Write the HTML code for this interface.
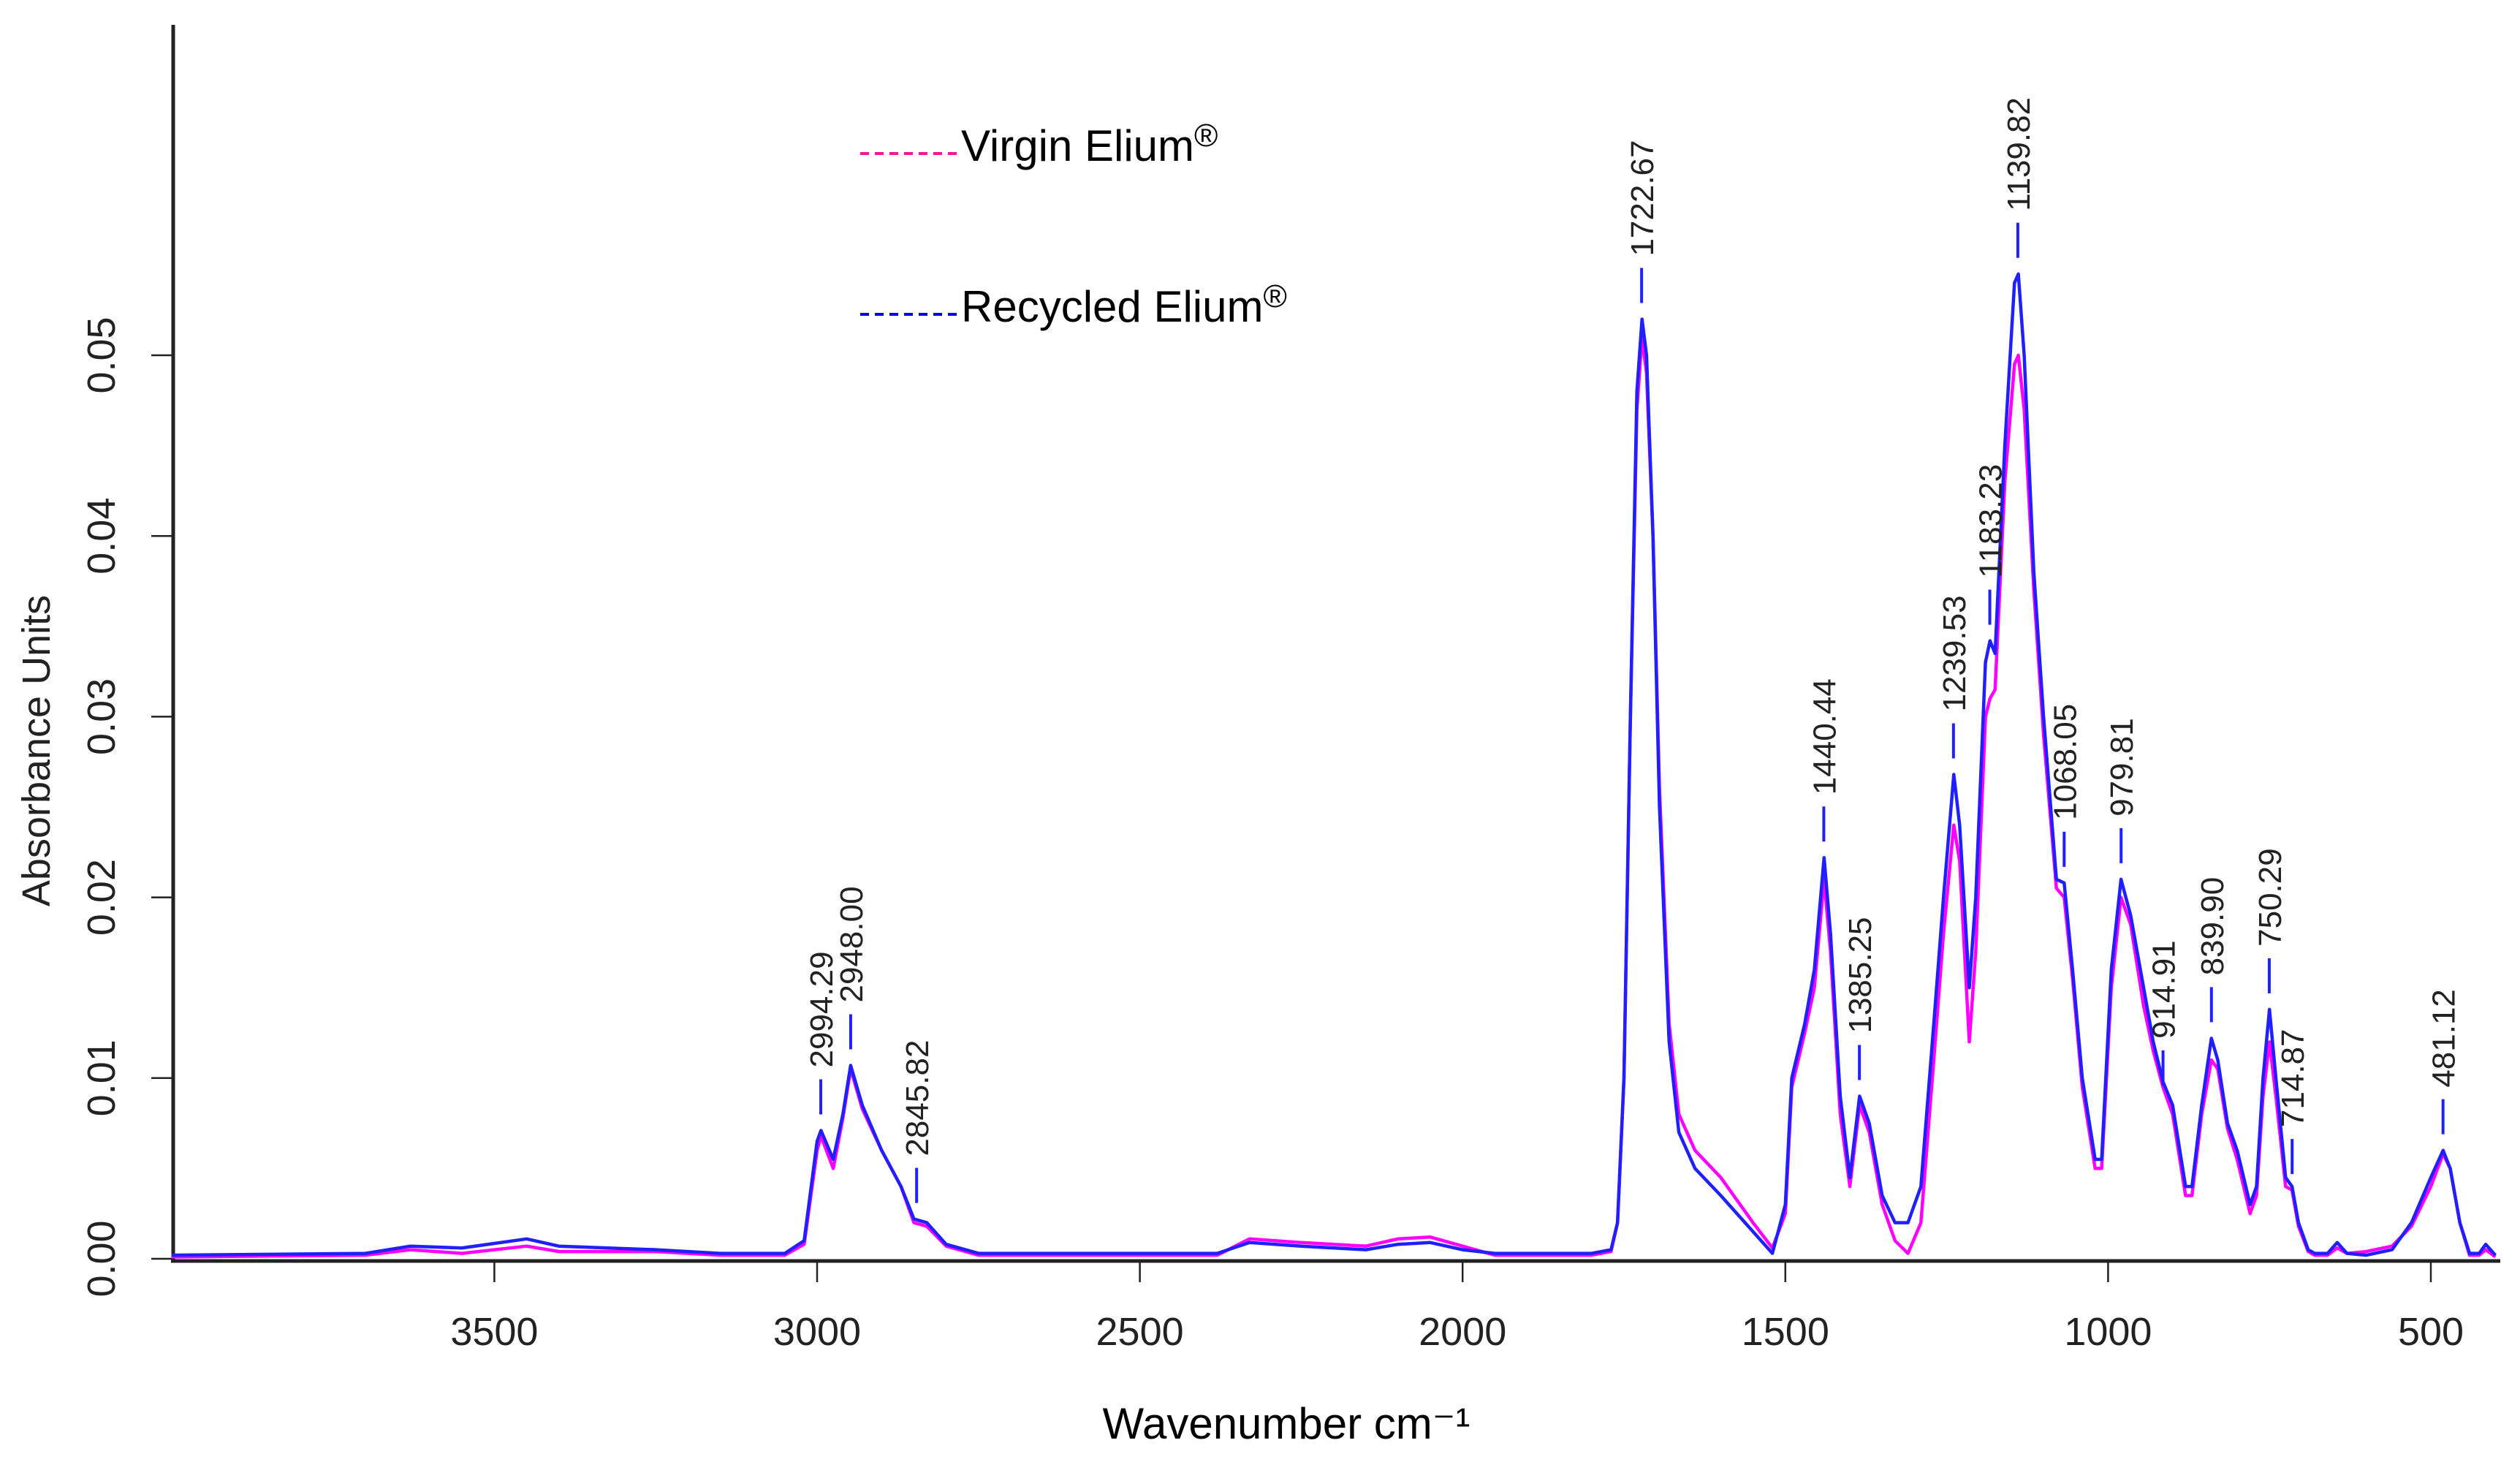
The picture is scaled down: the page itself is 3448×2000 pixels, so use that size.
<!DOCTYPE html>
<html><head><meta charset="utf-8"><style>
html,body{margin:0;padding:0;background:#fff;}
svg{display:block;}
text{font-family:"Liberation Sans",Arial,sans-serif;}
</style></head><body>
<svg id="chart" width="3448" height="2000" viewBox="0 0 3448 2000" xmlns="http://www.w3.org/2000/svg">
<g id="axes"></g>
<g id="series"></g>
<g id="labels"></g>
<text x="0" y="0" transform="translate(68,1027) rotate(-90)" text-anchor="middle" font-size="54" fill="#222">Absorbance Units</text>
<text x="1760" y="1968" text-anchor="middle" font-size="60" fill="#000">Wavenumber cm⁻¹</text>
<g>
<line x1="1177" y1="210" x2="1312" y2="210" stroke="#ff1493" stroke-width="4" stroke-dasharray="12,8"/>
<text x="1315" y="220" font-size="60" fill="#000">Virgin Elium<tspan font-size="44" dy="-20">®</tspan></text>
<line x1="1177" y1="430" x2="1312" y2="430" stroke="#0000ee" stroke-width="4" stroke-dasharray="12,8"/>
<text x="1315" y="440" font-size="60" fill="#000">Recycled Elium<tspan font-size="44" dy="-20">®</tspan></text>
</g>
</svg>
<script>
const xTicks=[3500,3000,2500,2000,1500,1000,500];
const yTicks=[0,0.01,0.02,0.03,0.04,0.05];
const yTickLabels=["0.00","0.01","0.02","0.03","0.04","0.05"];
const blueWn=[4000,3700,3630,3550,3450,3400,3250,3150,3050,3020,3000,2994,2975,2960,2948,2930,2900,2870,2850,2830,2800,2750,2500,2380,2330,2250,2150,2100,2050,2000,1950,1800,1770,1760,1750,1740,1730,1722,1715,1705,1695,1680,1665,1640,1600,1550,1520,1500,1490,1470,1455,1440,1430,1415,1400,1385,1370,1350,1330,1310,1290,1270,1255,1239,1230,1215,1205,1190,1183,1175,1160,1145,1139,1130,1115,1100,1080,1068,1055,1040,1020,1010,995,980,965,945,930,915,900,880,870,855,840,830,815,800,780,770,760,750,740,725,715,705,690,680,660,645,630,600,560,530,500,481,470,455,440,425,415,400];
const blueA=[0.0002,0.0003,0.0007,0.0006,0.0011,0.0007,0.0005,0.0003,0.0003,0.001,0.0065,0.0071,0.0055,0.008,0.0107,0.0085,0.006,0.004,0.0022,0.002,0.0008,0.0003,0.0003,0.0003,0.0009,0.0007,0.0005,0.0008,0.0009,0.0005,0.0003,0.0003,0.0005,0.002,0.01,0.03,0.048,0.052,0.05,0.04,0.025,0.012,0.007,0.005,0.0035,0.0015,0.0003,0.003,0.01,0.013,0.016,0.0222,0.018,0.009,0.0045,0.009,0.0075,0.0035,0.002,0.002,0.004,0.013,0.02,0.0268,0.024,0.015,0.02,0.033,0.0342,0.0335,0.045,0.054,0.0545,0.05,0.038,0.03,0.021,0.0208,0.016,0.01,0.0055,0.0055,0.016,0.021,0.019,0.015,0.012,0.0098,0.0085,0.004,0.004,0.0085,0.0122,0.011,0.0075,0.006,0.003,0.004,0.01,0.0138,0.01,0.0045,0.004,0.002,0.0005,0.0003,0.0003,0.0009,0.0003,0.0002,0.0005,0.002,0.0045,0.006,0.005,0.002,0.0003,0.0003,0.0008,0.0002];
const virginWn=[4000,3700,3630,3550,3450,3400,3250,3150,3050,3020,3000,2994,2975,2960,2948,2930,2900,2870,2850,2830,2800,2750,2500,2380,2330,2250,2150,2100,2050,2000,1950,1800,1770,1760,1750,1740,1730,1722,1715,1705,1695,1680,1665,1640,1600,1550,1520,1500,1490,1470,1455,1440,1430,1415,1400,1385,1370,1350,1330,1310,1290,1270,1255,1239,1230,1215,1205,1190,1183,1175,1160,1145,1139,1130,1115,1100,1080,1068,1055,1040,1020,1010,995,980,965,945,930,915,900,880,870,855,840,830,815,800,780,770,760,750,740,725,715,705,690,680,660,645,630,600,560,530,500,481,470,455,440,425,415,400];
const virginA=[0.0001,0.0002,0.0005,0.0003,0.0007,0.0004,0.0004,0.0002,0.0002,0.0008,0.006,0.0068,0.005,0.0078,0.0105,0.0083,0.006,0.004,0.002,0.0018,0.0007,0.0002,0.0002,0.0002,0.0011,0.0009,0.0007,0.0011,0.0012,0.0007,0.0002,0.0002,0.0004,0.002,0.01,0.03,0.047,0.051,0.049,0.04,0.026,0.013,0.008,0.006,0.0045,0.002,0.0006,0.0025,0.0095,0.0125,0.015,0.021,0.017,0.008,0.004,0.0085,0.007,0.003,0.001,0.0003,0.002,0.011,0.018,0.024,0.022,0.012,0.017,0.03,0.031,0.0315,0.043,0.0495,0.050,0.047,0.037,0.029,0.0205,0.020,0.0155,0.0095,0.005,0.005,0.015,0.020,0.0185,0.014,0.0115,0.0095,0.008,0.0035,0.0035,0.008,0.011,0.0105,0.0072,0.0055,0.0025,0.0035,0.009,0.012,0.009,0.004,0.0038,0.0018,0.0004,0.0002,0.0002,0.0006,0.0003,0.0004,0.0007,0.0018,0.004,0.0058,0.005,0.002,0.0002,0.0002,0.0005,0.0001];
const peakWn=[2994.29,2948.00,2845.82,1722.67,1440.44,1385.25,1239.53,1183.23,1139.82,1068.05,979.81,914.91,839.90,750.29,714.87,481.12];
const peakA=[0.0071,0.0107,0.0022,0.052,0.0222,0.009,0.0268,0.0342,0.0545,0.0208,0.021,0.0087,0.0122,0.0138,0.0038,0.006];
const peakLabels=["2994.29","2948.00","2845.82","1722.67","1440.44","1385.25","1239.53","1183.23","1139.82","1068.05","979.81","914.91","839.90","750.29","714.87","481.12"];

const NS="http://www.w3.org/2000/svg";
const X0=237,X1=3421,Y0=1722,YTOP=34;
function xs(w){return 3326+(500-w)*0.8832;}
function ys(a){return Y0-a*24720;}
function mk(tag,attrs,parent){const e=document.createElementNS(NS,tag);for(const k in attrs)e.setAttribute(k,attrs[k]);parent.appendChild(e);return e;}
const axes=document.getElementById('axes');
let yl=mk('line',{x1:X0,y1:YTOP,x2:X0,y2:Y0+4,stroke:'#222','stroke-width':5},axes);


let xl=mk('line',{x1:X0-3,y1:Y0+3,x2:X1,y2:Y0+3,stroke:'#222','stroke-width':5},axes);


xTicks.forEach(t=>{
 const x=xs(t);
 let l=mk('line',{x1:x,y1:Y0+3,x2:x,y2:Y0+32,stroke:'#222','stroke-width':2.5},axes);
 
 
 let tx=mk('text',{x:x,y:Y0+118,'text-anchor':'middle','font-size':54,fill:'#222'},axes);
 
 
 tx.textContent=t;
});
yTicks.forEach((t,i)=>{
 const y=ys(t);
 let l=mk('line',{x1:X0-30,y1:y,x2:X0,y2:y,stroke:'#222','stroke-width':2.5},axes);
 
 
 let tx=mk('text',{x:0,y:0,transform:`translate(157,${y}) rotate(-90)`,'text-anchor':'middle','font-size':54,fill:'#222'},axes);
 
 
 tx.textContent=yTickLabels[i];
});
const series=document.getElementById('series');
function drawLine(wn,a,color,name){
 const d=wn.map((w,i)=>(i?'L':'M')+xs(w).toFixed(1)+','+ys(a[i]).toFixed(1)).join(' ');
 const p=mk('path',{d:d,fill:'none',stroke:color,'stroke-width':4.5,'stroke-linejoin':'round'},series);
 
 
}
drawLine(virginWn,virginA,'#ff00ff','virgin-elium-line');
drawLine(blueWn,blueA,'#2020ff','recycled-elium-line');
const labels=document.getElementById('labels');
peakWn.forEach((w,i)=>{
 const x=xs(w),y=ys(peakA[i]);
 const l=mk('line',{x1:x,y1:y-22,x2:x,y2:y-70,stroke:'#2020ff','stroke-width':4},labels);
 
 
 const t=mk('text',{x:0,y:0,transform:`translate(${x+16},${y-86}) rotate(-90)`,'font-size':44,fill:'#222'},labels);
 
 
 t.textContent=peakLabels[i];
});
</script>
</body></html>
